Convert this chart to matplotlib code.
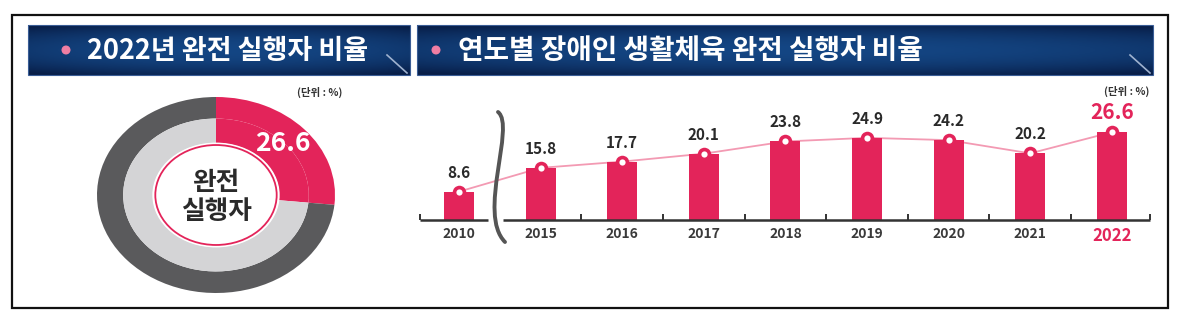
import numpy as np
import matplotlib
matplotlib.use("Agg")
import matplotlib.pyplot as plt
from matplotlib.patches import Rectangle, Circle, PathPatch
from matplotlib.path import Path

plt.rcParams['font.family'] = ['Noto Sans CJK KR', 'DejaVu Sans']

# ---- data -------------------------------------------------------------
years = ['2010', '2015', '2016', '2017', '2018', '2019', '2020', '2021', '2022']
rates = [8.6, 15.8, 17.7, 20.1, 23.8, 24.9, 24.2, 20.2, 26.6]

share_labels = ['완전 실행자', '기타']
share_2022 = [26.6, 73.4]

title_left = '2022년 완전 실행자 비율'
title_right = '연도별 장애인 생활체육 완전 실행자 비율'
unit_text = '(단위 : %)'
center_text = '완전\n실행자'

# ---- style ------------------------------------------------------------
PINK = '#e3245a'
LINE_PINK = '#f39ab3'
DARK_RING = '#5a5a5c'
LIGHT_RING = '#d4d4d6'
TEXT_DARK = '#2a2a2a'

W, H = 1200, 324
fig = plt.figure(figsize=(W / 100, H / 100), dpi=100)
fig.patch.set_facecolor('white')


def px_axes(x0, y0, x1, y1, **kw):
    """Axes placed by pixel box (top-left origin)."""
    return fig.add_axes([x0 / W, 1 - y1 / H, (x1 - x0) / W, (y1 - y0) / H], **kw)


# overlay in pixel coordinates for frame, banners and notes
overlay = fig.add_axes([0, 0, 1, 1], zorder=5)
overlay.set_xlim(0, W)
overlay.set_ylim(H, 0)
overlay.axis('off')
overlay.patch.set_alpha(0)


def banner(x0, x1, y0, y1, bullet_x, text_x, text, size):
    ny, nx = 60, 300
    yy = np.linspace(-1, 1, ny)[:, None]
    xx = np.linspace(-1, 1, nx)[None, :]
    t = np.clip(1 - 0.75 * yy ** 2 - 0.35 * xx ** 2, 0, 1)
    dark = np.array([8, 30, 72]) / 255
    light = np.array([20, 70, 132]) / 255
    img = dark + (light - dark) * t[..., None]
    overlay.imshow(img, extent=(x0, x1, y1, y0), aspect='auto',
                   interpolation='bicubic', zorder=1)
    overlay.add_patch(Rectangle((x0, y0), x1 - x0, y1 - y0, fill=False,
                                ec='#3a5d96', lw=0.8, zorder=2))
    overlay.plot([x1 - 23, x1 - 3], [y1 - 20, y1 - 2], color='#9fb2cf',
                 lw=1.2, zorder=3)
    overlay.add_patch(Circle((bullet_x, (y0 + y1) / 2), 3.8, color='#f07ea3',
                             zorder=3))
    overlay.text(text_x, (y0 + y1) / 2 + 1, text, color='white', fontsize=size,
                 fontweight='bold', ha='left', va='center', zorder=4)


banner(28, 410, 25, 75, 66, 87, title_left, 19.5)
banner(417, 1153, 25, 75, 436, 458, title_right, 20)

overlay.add_patch(Rectangle((12, 15), 1156, 293, fill=False, ec='#111111',
                            lw=1.6, zorder=6))

overlay.text(320, 92, unit_text, fontsize=7.5, fontweight='bold',
             color='#333333', ha='center', va='center')
overlay.text(1127, 91, unit_text, fontsize=7.5, fontweight='bold',
             color='#333333', ha='center', va='center')

# axis break mark between 2010 and 2015
brace = Path([(498, 112), (516, 126), (477, 214), (505, 242)],
             [Path.MOVETO, Path.CURVE4, Path.CURVE4, Path.CURVE4])
overlay.add_patch(PathPatch(brace, fill=False, ec='#555555', lw=2.8,
                            capstyle='round', zorder=5))

# ---- donut ------------------------------------------------------------
cx, cy, rx, ry = 216, 195, 119, 98
dax = px_axes(cx - 130, cy - 108, cx + 130, cy + 108)
dax.pie(share_2022, radius=1.0, startangle=90, counterclock=False,
        colors=[PINK, DARK_RING], wedgeprops=dict(width=0.22, linewidth=0))
dax.pie(share_2022, radius=0.78, startangle=90, counterclock=False,
        colors=[PINK, LIGHT_RING], wedgeprops=dict(width=0.25, linewidth=0))
dax.add_patch(Circle((0, 0), 0.535, fc='white', ec='none', zorder=3))
dax.add_patch(Circle((0, 0), 0.51, fill=False, ec=PINK, lw=1.3, zorder=4))
dax.set_aspect('auto')
dax.set_xlim(-130 / rx, 130 / rx)
dax.set_ylim(-108 / ry, 108 / ry)
dax.axis('off')

mid = np.deg2rad(90 - share_2022[0] / sum(share_2022) * 360 / 2)
dax.text(0.76 * np.cos(mid), 0.78 * np.sin(mid), f'{share_2022[0]:.1f}',
         color='white', fontsize=19, fontweight='bold', ha='center',
         va='center', zorder=5)
dax.text(0, -0.02, center_text, color=TEXT_DARK, fontsize=18.5,
         fontweight='bold', ha='center', va='center', linespacing=1.1,
         zorder=5)

# ---- bar + line chart -------------------------------------------------
px_per_unit = 3.3
bax = px_axes(420, 100, 1150, 220)
x = np.arange(len(years))
x_lo, x_hi = (420 - 459) / 81.6, (1150 - 459) / 81.6
bax.set_xlim(x_lo, x_hi)
bax.set_ylim(0, 120 / px_per_unit)

bax.plot(x, rates, color=LINE_PINK, lw=1.3, zorder=2)
bax.bar(x, rates, width=0.37, color=PINK, zorder=3)
bax.scatter(x, rates, s=95, color=PINK, zorder=4, linewidths=0)
bax.scatter(x, rates, s=20, color='white', zorder=5, linewidths=0)

for i, v in enumerate(rates):
    last = i == len(rates) - 1
    bax.annotate(f'{v:.1f}', (i, v), xytext=(0, 20 if last else 19),
                 textcoords='offset pixels', ha='center', va='center',
                 fontsize=15 if last else 11, fontweight='bold',
                 color=PINK if last else TEXT_DARK, zorder=6)

# baseline with a gap for the break
for seg in [(x_lo, 0.36), (0.54, x_hi)]:
    bax.plot(seg, [0, 0], color='#333333', lw=1.8, clip_on=False,
             solid_capstyle='butt', zorder=6)

for s in bax.spines.values():
    s.set_visible(False)
bax.set_yticks([])
bax.set_xticks(x)
bax.set_xticklabels(years, fontweight='bold')
bax.set_xticks([x_lo] + list(np.arange(1.5, 8, 1.0)) + [x_hi], minor=True)
bax.tick_params(axis='x', which='major', length=0, pad=5, labelsize=10,
                labelcolor='#3a3a3a')
bax.tick_params(axis='x', which='minor', direction='in', length=4,
                width=1.4, color='#333333')
lab = bax.get_xticklabels()[-1]
lab.set_color(PINK)
lab.set_fontsize(12)
lab.set_fontweight('bold')
bax.patch.set_alpha(0)

fig.savefig('out.png', dpi=100, facecolor='white')
